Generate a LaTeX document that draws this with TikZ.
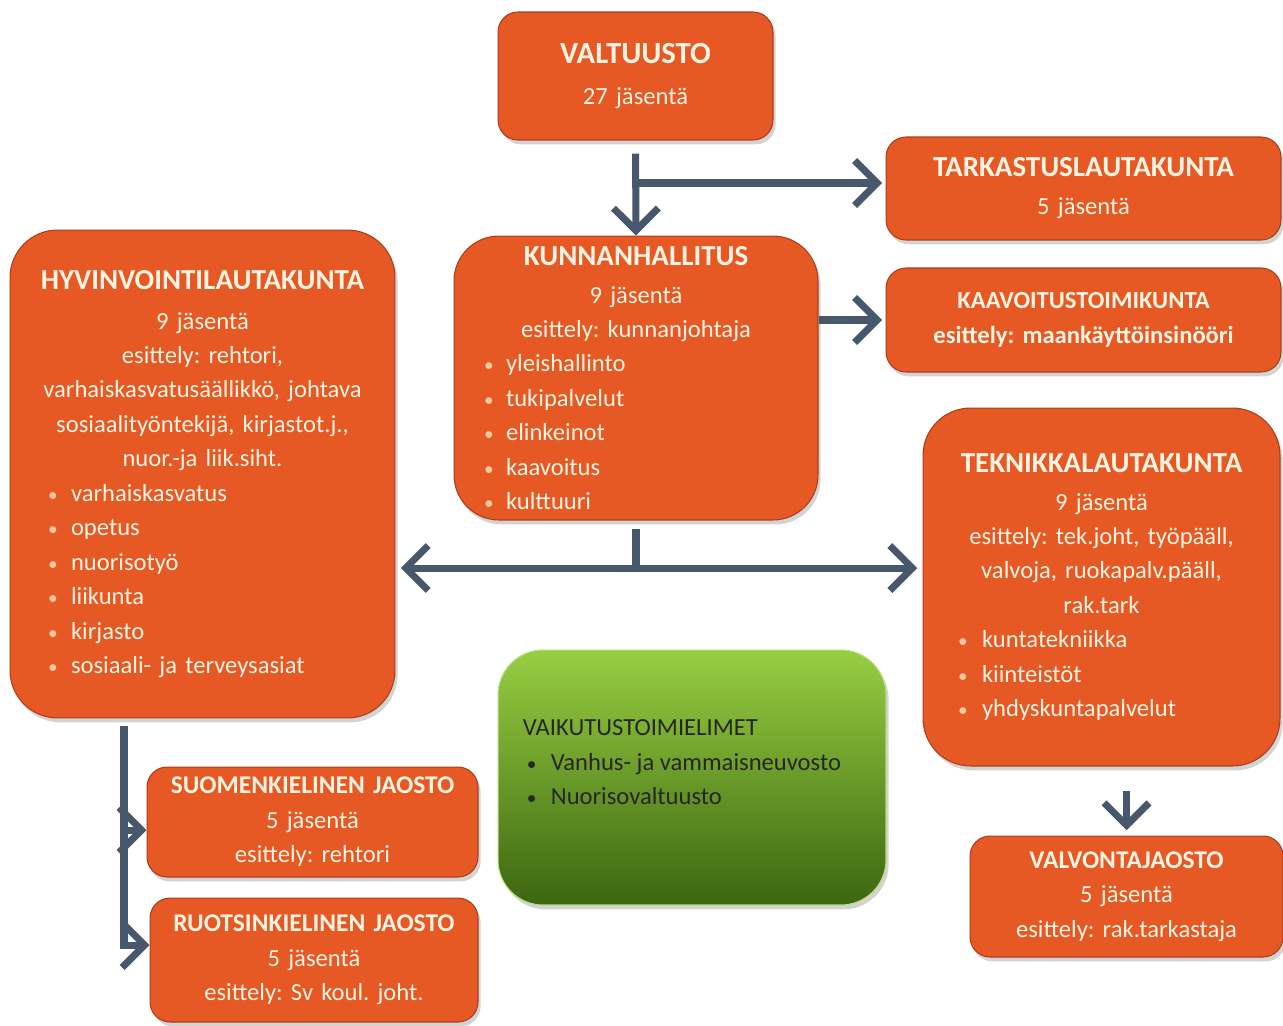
\documentclass[tikz,border=0pt]{standalone}
\usepackage{fontspec}
\setmainfont{Carlito}
\usetikzlibrary{arrows.meta,shadows,positioning}
\frenchspacing
\definecolor{oranssi}{RGB}{230,88,36}
\definecolor{reuna}{RGB}{170,62,26}
\definecolor{teksti}{RGB}{255,244,226}
\definecolor{piste}{RGB}{250,200,160}
\definecolor{pilari}{RGB}{72,88,108}
\definecolor{vihrea1}{RGB}{152,206,66}
\definecolor{vihrea2}{RGB}{60,102,16}
\newcommand{\otsikko}[1]{{\fontsize{16.5}{20}\selectfont\bfseries #1}}
\newcommand{\bul}[3]{\makebox[\hsize][l]{\hspace{#1}\makebox[#2][l]{\textcolor{piste}{\fontsize{11}{12}\selectfont\textbullet}}#3}}
\tikzset{
  pk/.tip={Straight Barb[length=4.5mm,width=9mm]},
  laatikko/.style={rectangle, rounded corners=0.4cm, fill=oranssi, draw=reuna,
    line width=0.6pt, text=teksti, inner sep=0pt, align=center,
    font=\fontsize{14}{19.6}\selectfont,
    drop shadow={shadow xshift=1.5pt, shadow yshift=-2.5pt, opacity=0.35}},
  iso/.style={laatikko, rounded corners=0.95cm},
  nuoli/.style={draw=pilari, line width=4pt, -pk},
}

\begin{document}
\begin{tikzpicture}[x=0.02cm,y=-0.02cm]
  \useasboundingbox (0,0) rectangle (1283,1025);
  \node[laatikko, minimum width=5.5cm, minimum height=2.56cm, text width=5.5cm] (valtuusto) at (635.5,76)
    {{\fontsize{17.5}{20}\selectfont\bfseries VALTUUSTO}\\[4pt]27 jäsentä};
  \node[laatikko, minimum width=7.9cm, minimum height=2.06cm, text width=7.9cm] (tarkastus) at (1083.5,188.5)
    {\otsikko{TARKASTUSLAUTAKUNTA}\\[2pt]5 jäsentä};
  \node[iso, rounded corners=0.9cm, minimum width=7.28cm, minimum height=5.68cm, text width=7.28cm] (kunnanhallitus) at (636,378)
    {\otsikko{KUNNANHALLITUS}\\[2pt]9 jäsentä\\esittely: kunnanjohtaja\\
     \bul{0.6cm}{0.44cm}{yleishallinto}\\\bul{0.6cm}{0.44cm}{tukipalvelut}\\
     \bul{0.6cm}{0.44cm}{elinkeinot}\\\bul{0.6cm}{0.44cm}{kaavoitus}\\
     \bul{0.6cm}{0.44cm}{kulttuuri}};
  \node[laatikko, minimum width=7.9cm, minimum height=2.08cm, text width=7.9cm, font=\fontsize{14}{19.6}\selectfont\bfseries] (kaavoitus) at (1083.5,320)
    {KAAVOITUSTOIMIKUNTA\\esittely: maankäyttöinsinööri};
  \node[iso, minimum width=7.7cm, minimum height=9.76cm, text width=7.7cm] (hyvinvointi) at (202.5,474)
    {\otsikko{HYVINVOINTILAUTAKUNTA}\\[3pt]9 jäsentä\\esittely: rehtori,\\
     varhaiskasvatusäällikkö, johtava\\sosiaalityöntekijä, kirjastot.j.,\\nuor.-ja liik.siht.\\
     \bul{0.76cm}{0.46cm}{varhaiskasvatus}\\\bul{0.76cm}{0.46cm}{opetus}\\
     \bul{0.76cm}{0.46cm}{nuorisotyö}\\\bul{0.76cm}{0.46cm}{liikunta}\\
     \bul{0.76cm}{0.46cm}{kirjasto}\\\bul{0.76cm}{0.46cm}{sosiaali- ja terveysasiat}};
  \node[iso, minimum width=7.14cm, minimum height=7.16cm, text width=7.14cm] (teknikka) at (1101.5,587)
    {\otsikko{TEKNIKKALAUTAKUNTA}\\[2pt]9 jäsentä\\esittely: tek.joht, työpääll,\\
     valvoja, ruokapalv.pääll,\\rak.tark\\
     \bul{0.7cm}{0.48cm}{kuntatekniikka}\\\bul{0.7cm}{0.48cm}{kiinteistöt}\\
     \bul{0.7cm}{0.48cm}{yhdyskuntapalvelut}};
  \node[rectangle, rounded corners=0.9cm, minimum width=7.76cm, minimum height=5.1cm,
    top color=vihrea1, bottom color=vihrea2, draw=vihrea1!70!white, line width=0.6pt,
    drop shadow={shadow xshift=1.5pt, shadow yshift=-2.5pt, opacity=0.35}] (vaikutus) at (692,777.5) {};
  \node[anchor=west, align=left, inner sep=0pt, text=black!85, font=\fontsize{14}{19.6}\selectfont] (vaikutusteksti)
    at ([xshift=0.5cm, yshift=0.3cm]vaikutus.west)
    {VAIKUTUSTOIMIELIMET\\
     \hspace*{0.08cm}\makebox[0.48cm][l]{{\fontsize{11}{12}\selectfont\textbullet}}Vanhus- ja vammaisneuvosto\\
     \hspace*{0.08cm}\makebox[0.48cm][l]{{\fontsize{11}{12}\selectfont\textbullet}}Nuorisovaltuusto};
  \node[laatikko, minimum width=6.62cm, minimum height=2.2cm, text width=6.62cm] (suomi) at (312.5,822)
    {{\fontsize{14.5}{19}\selectfont\bfseries SUOMENKIELINEN JAOSTO}\\5 jäsentä\\esittely: rehtori};
  \node[laatikko, minimum width=6.56cm, minimum height=2.48cm, text width=6.56cm] (ruotsi) at (314,960)
    {{\fontsize{14.5}{19}\selectfont\bfseries RUOTSINKIELINEN JAOSTO}\\5 jäsentä\\esittely: Sv koul. joht.};
  \node[laatikko, minimum width=6.26cm, minimum height=2.42cm, text width=6.26cm] (valvonta) at (1126.5,896.5)
    {{\fontsize{14.5}{19}\selectfont\bfseries VALVONTAJAOSTO}\\5 jäsentä\\esittely: rak.tarkastaja};

  \coordinate (haara) at (636,183);
  \coordinate (keskus) at (636,568);
  \coordinate (hv) at (124,726);
  \draw[nuoli, shorten <=0.26cm] (valtuusto.south) -- (kunnanhallitus.north);
  \draw[nuoli, shorten >=2pt] (haara) -- (haara -| tarkastus.west);
  \draw[nuoli, shorten >=2pt] (kunnanhallitus.east |- kaavoitus.west) -- (kaavoitus.west);
  \draw[draw=pilari, line width=4pt, shorten <=0.16cm] (kunnanhallitus.south) -- (keskus);
  \draw[nuoli, pk-pk, shorten <=3pt, shorten >=3pt] (keskus -| hyvinvointi.east) -- (keskus -| teknikka.west);
  \draw[nuoli] (hv) |- ([yshift=-0.16cm]suomi.west);
  \draw[nuoli] (hv) |- ([yshift=0.3cm]ruotsi.west);
  \draw[nuoli, shorten <=0.48cm, shorten >=3pt] (valvonta.north |- teknikka.south) -- (valvonta.north);
\end{tikzpicture}
\end{document}
